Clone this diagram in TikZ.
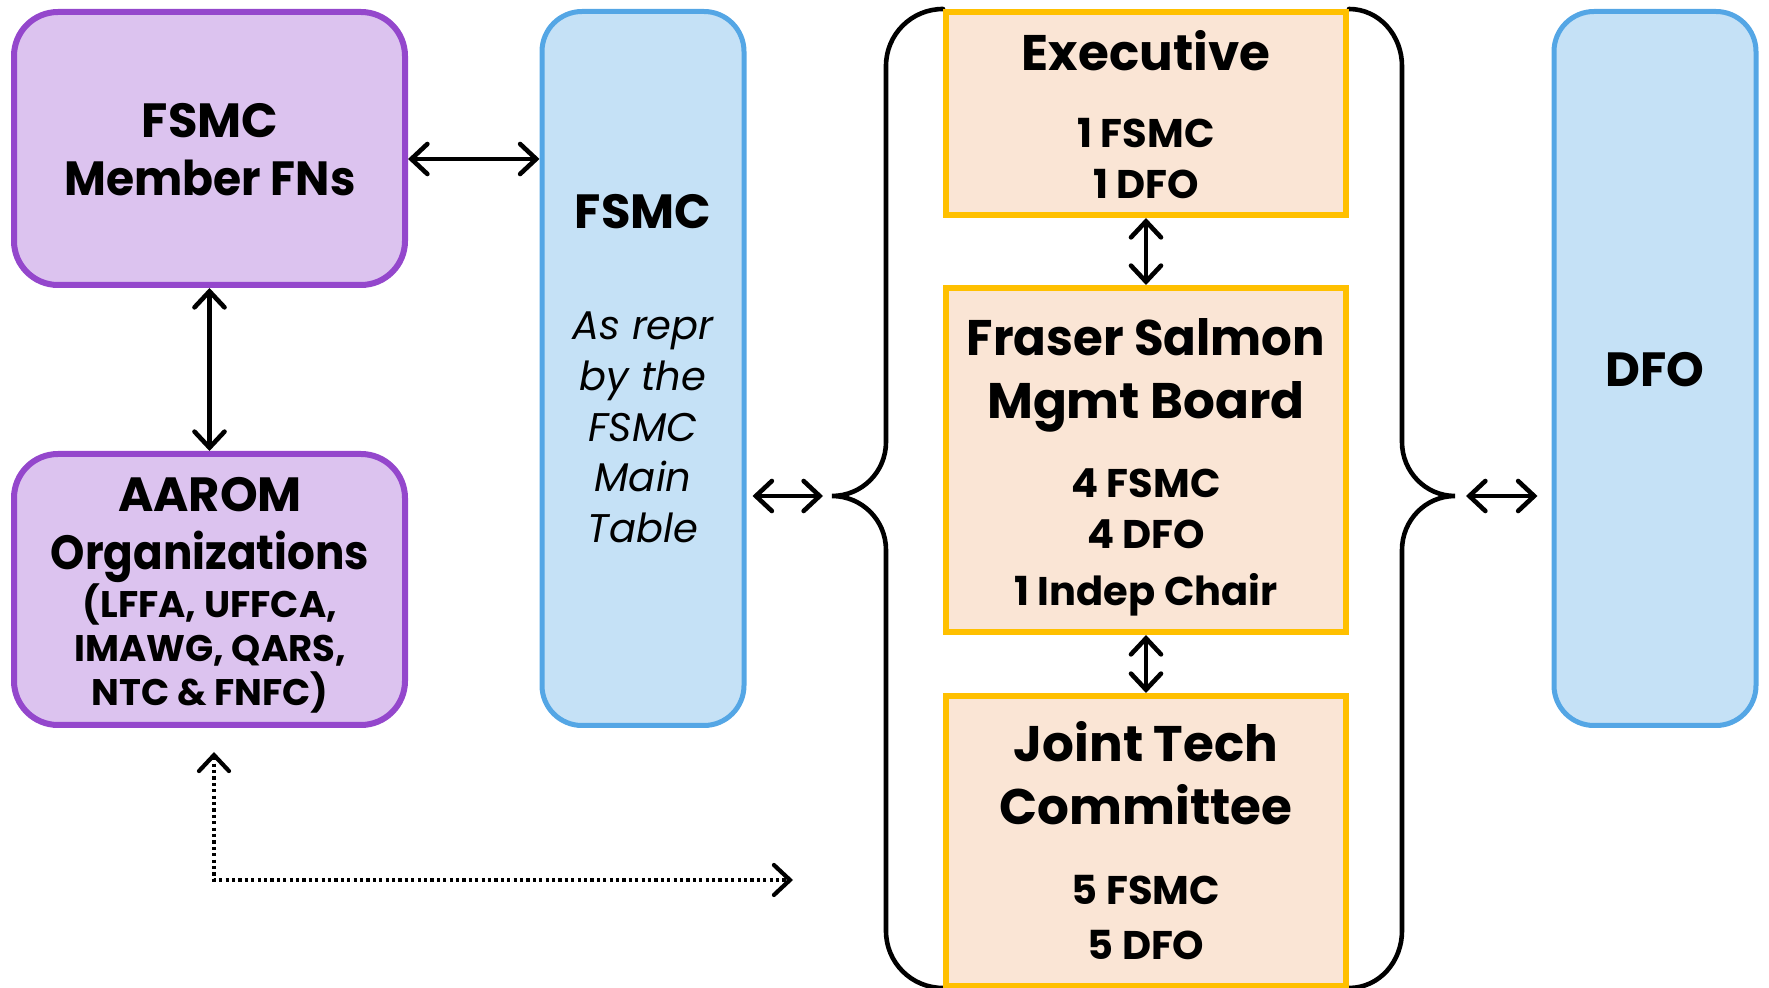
\documentclass[tikz,border=0pt]{standalone}
\usepackage{fontspec}
\setmainfont{Poppins}
\usetikzlibrary{arrows.meta}
\definecolor{purB}{HTML}{9447CC}
\definecolor{purF}{HTML}{DCC3EF}
\definecolor{bluB}{HTML}{54A6E5}
\definecolor{bluF}{HTML}{C5E1F6}
\definecolor{orgB}{HTML}{FFC000}
\definecolor{orgF}{HTML}{FAE5D5}
\tikzset{
  purplebox/.style={draw=purB, fill=purF, line width=3pt, rounded corners=22pt, inner sep=0pt, minimum width=195.5pt},
  bluebox/.style={draw=bluB, fill=bluF, line width=2.5pt, rounded corners=20pt, inner sep=0pt, minimum width=101pt, minimum height=357pt},
  orangebox/.style={draw=orgB, fill=orgF, line width=3pt, inner sep=0pt, minimum width=200pt},
  bigtxt/.style={align=center, inner sep=0pt, font=\bfseries\fontsize{24}{29}\selectfont},
  headtxt/.style={align=center, inner sep=0pt, font=\bfseries\fontsize{25}{31.6}\selectfont},
  subtxt/.style={align=center, inner sep=0pt, font=\bfseries\fontsize{20}{25.4}\selectfont},
  smalltxt/.style={align=center, inner sep=0pt, font=\bfseries\fontsize{18.5}{22}\selectfont},
  itxt/.style={align=center, inner sep=0pt, font=\itshape\fontsize{20}{25.4}\selectfont},
  barb/.tip={Straight Barb[length=8pt,width=15pt,line cap=round]},
  biarrow/.style={line width=2.3pt, barb-barb},
  dotarrow/.style={line width=2.1pt, dash pattern=on 1.6pt off 1.6pt, barb-barb},
  bracestyle/.style={line width=2.3pt, line cap=round}
}
\begin{document}
\begin{tikzpicture}[x=0.5pt,y=-0.5pt]
\useasboundingbox (0,0) rectangle (1769,988);

% braces
\draw[bracestyle] (943,9) to[out=180,in=90] (886,66) -- (886,442) to[out=270,in=0] (832,496) to[out=0,in=90] (886,550) -- (886,931) to[out=270,in=180] (943,988);
\draw[bracestyle] (1349,9) to[out=0,in=90] (1402,66) -- (1402,442) to[out=270,in=180] (1455,496) to[out=180,in=90] (1402,550) -- (1402,931) to[out=270,in=0] (1349,988);
\coordinate (lbrace) at (832,496);
\coordinate (rbrace) at (1455,496);

% boxes
\node[purplebox, minimum height=136.5pt] (fn) at (209.5,148.5) {};
\node[purplebox, minimum height=135.5pt] (aarom) at (209.5,589.5) {};
\node[bluebox] (fsmc) at (643,368.5) {};
\node[bluebox] (dfo) at (1655,368.5) {};
\node[orangebox, minimum height=101.5pt] (exec) at (1146,113.5) {};
\node[orangebox, minimum height=172pt] (fraser) at (1146,460) {};
\node[orangebox, minimum height=145pt] (joint) at (1146,841) {};

% texts
\node[bigtxt] (tfn) at (210,149.5) {FSMC\\\scalebox{0.95}[1]{Member FNs}};
\node[bigtxt] (taarom) at (210,530) {AAROM\\\scalebox{0.91}[1]{Organizations}};
\node[smalltxt] (taarom2) at (210,648.6) {(LFFA, UFFCA,\\IMAWG, QARS,\\NTC \& FNFC)};
\node[bigtxt] (tfsmc) at (643,212) {FSMC};
\node[itxt] (tfsmc2) at (643,427.5) {As repr\\by the\\FSMC\\Main\\Table};
\node[headtxt] (texec) at (1146,51) {Executive};
\node[subtxt] (texec2) at (1146,158.5) {1 FSMC\\1 DFO};
\node[headtxt] (tfraser) at (1146,375) {\scalebox{0.965}[1]{Fraser Salmon}\\Mgmt Board};
\node[subtxt] (tfraser2) at (1146,509) {4 FSMC\\4 DFO};
\node[subtxt] (tfraser3) at (1146,594.5) {1 Indep Chair};
\node[headtxt] (tjoint) at (1146,773) {Joint Tech\\Committee};
\node[subtxt, font=\bfseries\fontsize{20}{27.6}\selectfont] (tjoint2) at (1146,917.6) {5 FSMC\\5 DFO};
\node[bigtxt] (tdfo) at (1655,370) {DFO};

% connectors
\draw[biarrow] ([yshift=-5.25pt]fn.east) -- ([yshift=-5.25pt]fn.east -| fsmc.west);
\draw[biarrow] (fn) -- (aarom);
\draw[biarrow] (exec) -- (fraser);
\draw[biarrow] (fraser) -- (joint);
\draw[biarrow, shorten <=3pt, shorten >=4.5pt] (fsmc.east |- lbrace) -- (lbrace);
\draw[biarrow, shorten <=5.5pt, shorten >=7pt] (rbrace) -- (dfo.west |- rbrace);
\coordinate (dtop) at (214,752);
\coordinate (dend) at (793,880);
\draw[dotarrow] (dtop) |- (dend);
\end{tikzpicture}
\end{document}
